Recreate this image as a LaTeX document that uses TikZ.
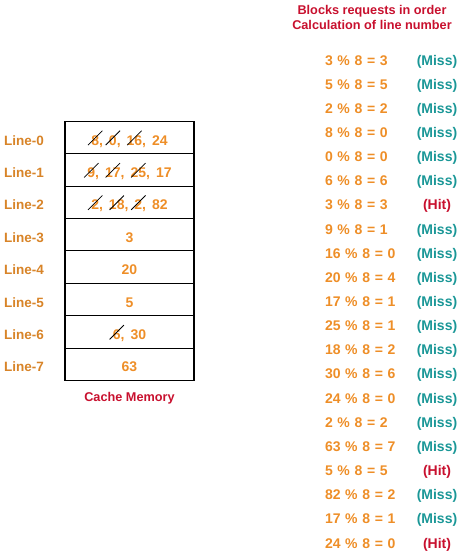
\documentclass[tikz,border=0pt]{standalone}
\usepackage{fontspec}
\setmainfont{Liberation Sans}
\usetikzlibrary{positioning}

\definecolor{cellorange}{HTML}{EE8E27}
\definecolor{labelorange}{HTML}{D88428}
\definecolor{missteal}{HTML}{1A9797}
\definecolor{hitred}{HTML}{C8102E}

% struck-out block number
\newcommand{\strike}[1]{\ooalign{#1\cr\hidewidth\makebox[0pt]{\smash{\textcolor{black}{\raisebox{0.48em}{\rotatebox[origin=c]{45}{\rule{1.45em}{0.8pt}}}}}}\hidewidth\cr}}
\newcommand{\gap}{\hspace{6pt}}

\begin{document}
\begin{tikzpicture}[
    x=1pt, y=-1pt,
    node distance=0pt,
    cell/.style={draw, line width=1.1pt, outer sep=0pt, minimum width=129pt, minimum height=32.4pt, text height=15pt, text depth=0pt, text=cellorange, font=\fontsize{14}{16}\selectfont\bfseries},
    linelabel/.style={inner sep=0pt, text height=15pt, text depth=0pt, text=labelorange, font=\fontsize{13.5}{16}\selectfont\bfseries},
    eq/.style={inner sep=0pt, outer sep=0pt, text width=72pt, align=left, minimum height=24.15pt, text height=12pt, text depth=0pt, text=cellorange, font=\fontsize{14}{16}\selectfont\bfseries},
    miss/.style={inner sep=0pt, outer sep=0pt, minimum width=50pt, minimum height=24.15pt, text height=12pt, text depth=0pt, text=missteal, font=\fontsize{14}{16}\selectfont\bfseries},
    hit/.style={miss, text=hitred},
    caption/.style={inner sep=0pt, align=center, text=hitred, font=\fontsize{12.7}{15}\selectfont\bfseries}
]

\useasboundingbox (0,0) rectangle (474,552);

% Cache lines
\node[cell] (c0) at (129.5,137.5) {\strike{8},\gap\strike{0},\gap\strike{16},\gap24};
\node[cell, below=of c0] (c1) {\strike{9},\gap\strike{17},\gap\strike{25},\gap17};
\node[cell, below=of c1] (c2) {\strike{2},\gap\strike{18},\gap\strike{2},\gap82};
\node[cell, below=of c2] (c3) {3};
\node[cell, below=of c3] (c4) {20};
\node[cell, below=of c4] (c5) {5};
\node[cell, below=of c5] (c6) {\strike{6},\gap30};
\node[cell, below=of c6] (c7) {63};

% Line labels
\node[linelabel, left=21pt of c0] (l0) {Line-0};
\node[linelabel, left=21pt of c1] (l1) {Line-1};
\node[linelabel, left=21pt of c2] (l2) {Line-2};
\node[linelabel, left=21pt of c3] (l3) {Line-3};
\node[linelabel, left=21pt of c4] (l4) {Line-4};
\node[linelabel, left=21pt of c5] (l5) {Line-5};
\node[linelabel, left=21pt of c6] (l6) {Line-6};
\node[linelabel, left=21pt of c7] (l7) {Line-7};

\node[caption, below=12pt of c7] (cap) {Cache Memory};

% Requests
\node[caption] (title) at (372,17) {Blocks requests in order\\Calculation of line number};

\node[eq] (e1) at (361,59) {3 \% 8 = 3};
\node[eq, below=of e1] (e2) {5 \% 8 = 5};
\node[eq, below=of e2] (e3) {2 \% 8 = 2};
\node[eq, below=of e3] (e4) {8 \% 8 = 0};
\node[eq, below=of e4] (e5) {0 \% 8 = 0};
\node[eq, below=of e5] (e6) {6 \% 8 = 6};
\node[eq, below=of e6] (e7) {3 \% 8 = 3};
\node[eq, below=of e7] (e8) {9 \% 8 = 1};
\node[eq, below=of e8] (e9) {16 \% 8 = 0};
\node[eq, below=of e9] (e10) {20 \% 8 = 4};
\node[eq, below=of e10] (e11) {17 \% 8 = 1};
\node[eq, below=of e11] (e12) {25 \% 8 = 1};
\node[eq, below=of e12] (e13) {18 \% 8 = 2};
\node[eq, below=of e13] (e14) {30 \% 8 = 6};
\node[eq, below=of e14] (e15) {24 \% 8 = 0};
\node[eq, below=of e15] (e16) {2 \% 8 = 2};
\node[eq, below=of e16] (e17) {63 \% 8 = 7};
\node[eq, below=of e17] (e18) {5 \% 8 = 5};
\node[eq, below=of e18] (e19) {82 \% 8 = 2};
\node[eq, below=of e19] (e20) {17 \% 8 = 1};
\node[eq, below=of e20] (e21) {24 \% 8 = 0};

% Results
\node[miss, right=15pt of e1] (s1) {(Miss)};
\node[miss, right=15pt of e2] (s2) {(Miss)};
\node[miss, right=15pt of e3] (s3) {(Miss)};
\node[miss, right=15pt of e4] (s4) {(Miss)};
\node[miss, right=15pt of e5] (s5) {(Miss)};
\node[miss, right=15pt of e6] (s6) {(Miss)};
\node[hit, right=15pt of e7] (s7) {(Hit)};
\node[miss, right=15pt of e8] (s8) {(Miss)};
\node[miss, right=15pt of e9] (s9) {(Miss)};
\node[miss, right=15pt of e10] (s10) {(Miss)};
\node[miss, right=15pt of e11] (s11) {(Miss)};
\node[miss, right=15pt of e12] (s12) {(Miss)};
\node[miss, right=15pt of e13] (s13) {(Miss)};
\node[miss, right=15pt of e14] (s14) {(Miss)};
\node[miss, right=15pt of e15] (s15) {(Miss)};
\node[miss, right=15pt of e16] (s16) {(Miss)};
\node[miss, right=15pt of e17] (s17) {(Miss)};
\node[hit, right=15pt of e18] (s18) {(Hit)};
\node[miss, right=15pt of e19] (s19) {(Miss)};
\node[miss, right=15pt of e20] (s20) {(Miss)};
\node[hit, right=15pt of e21] (s21) {(Hit)};

\end{tikzpicture}
\end{document}
